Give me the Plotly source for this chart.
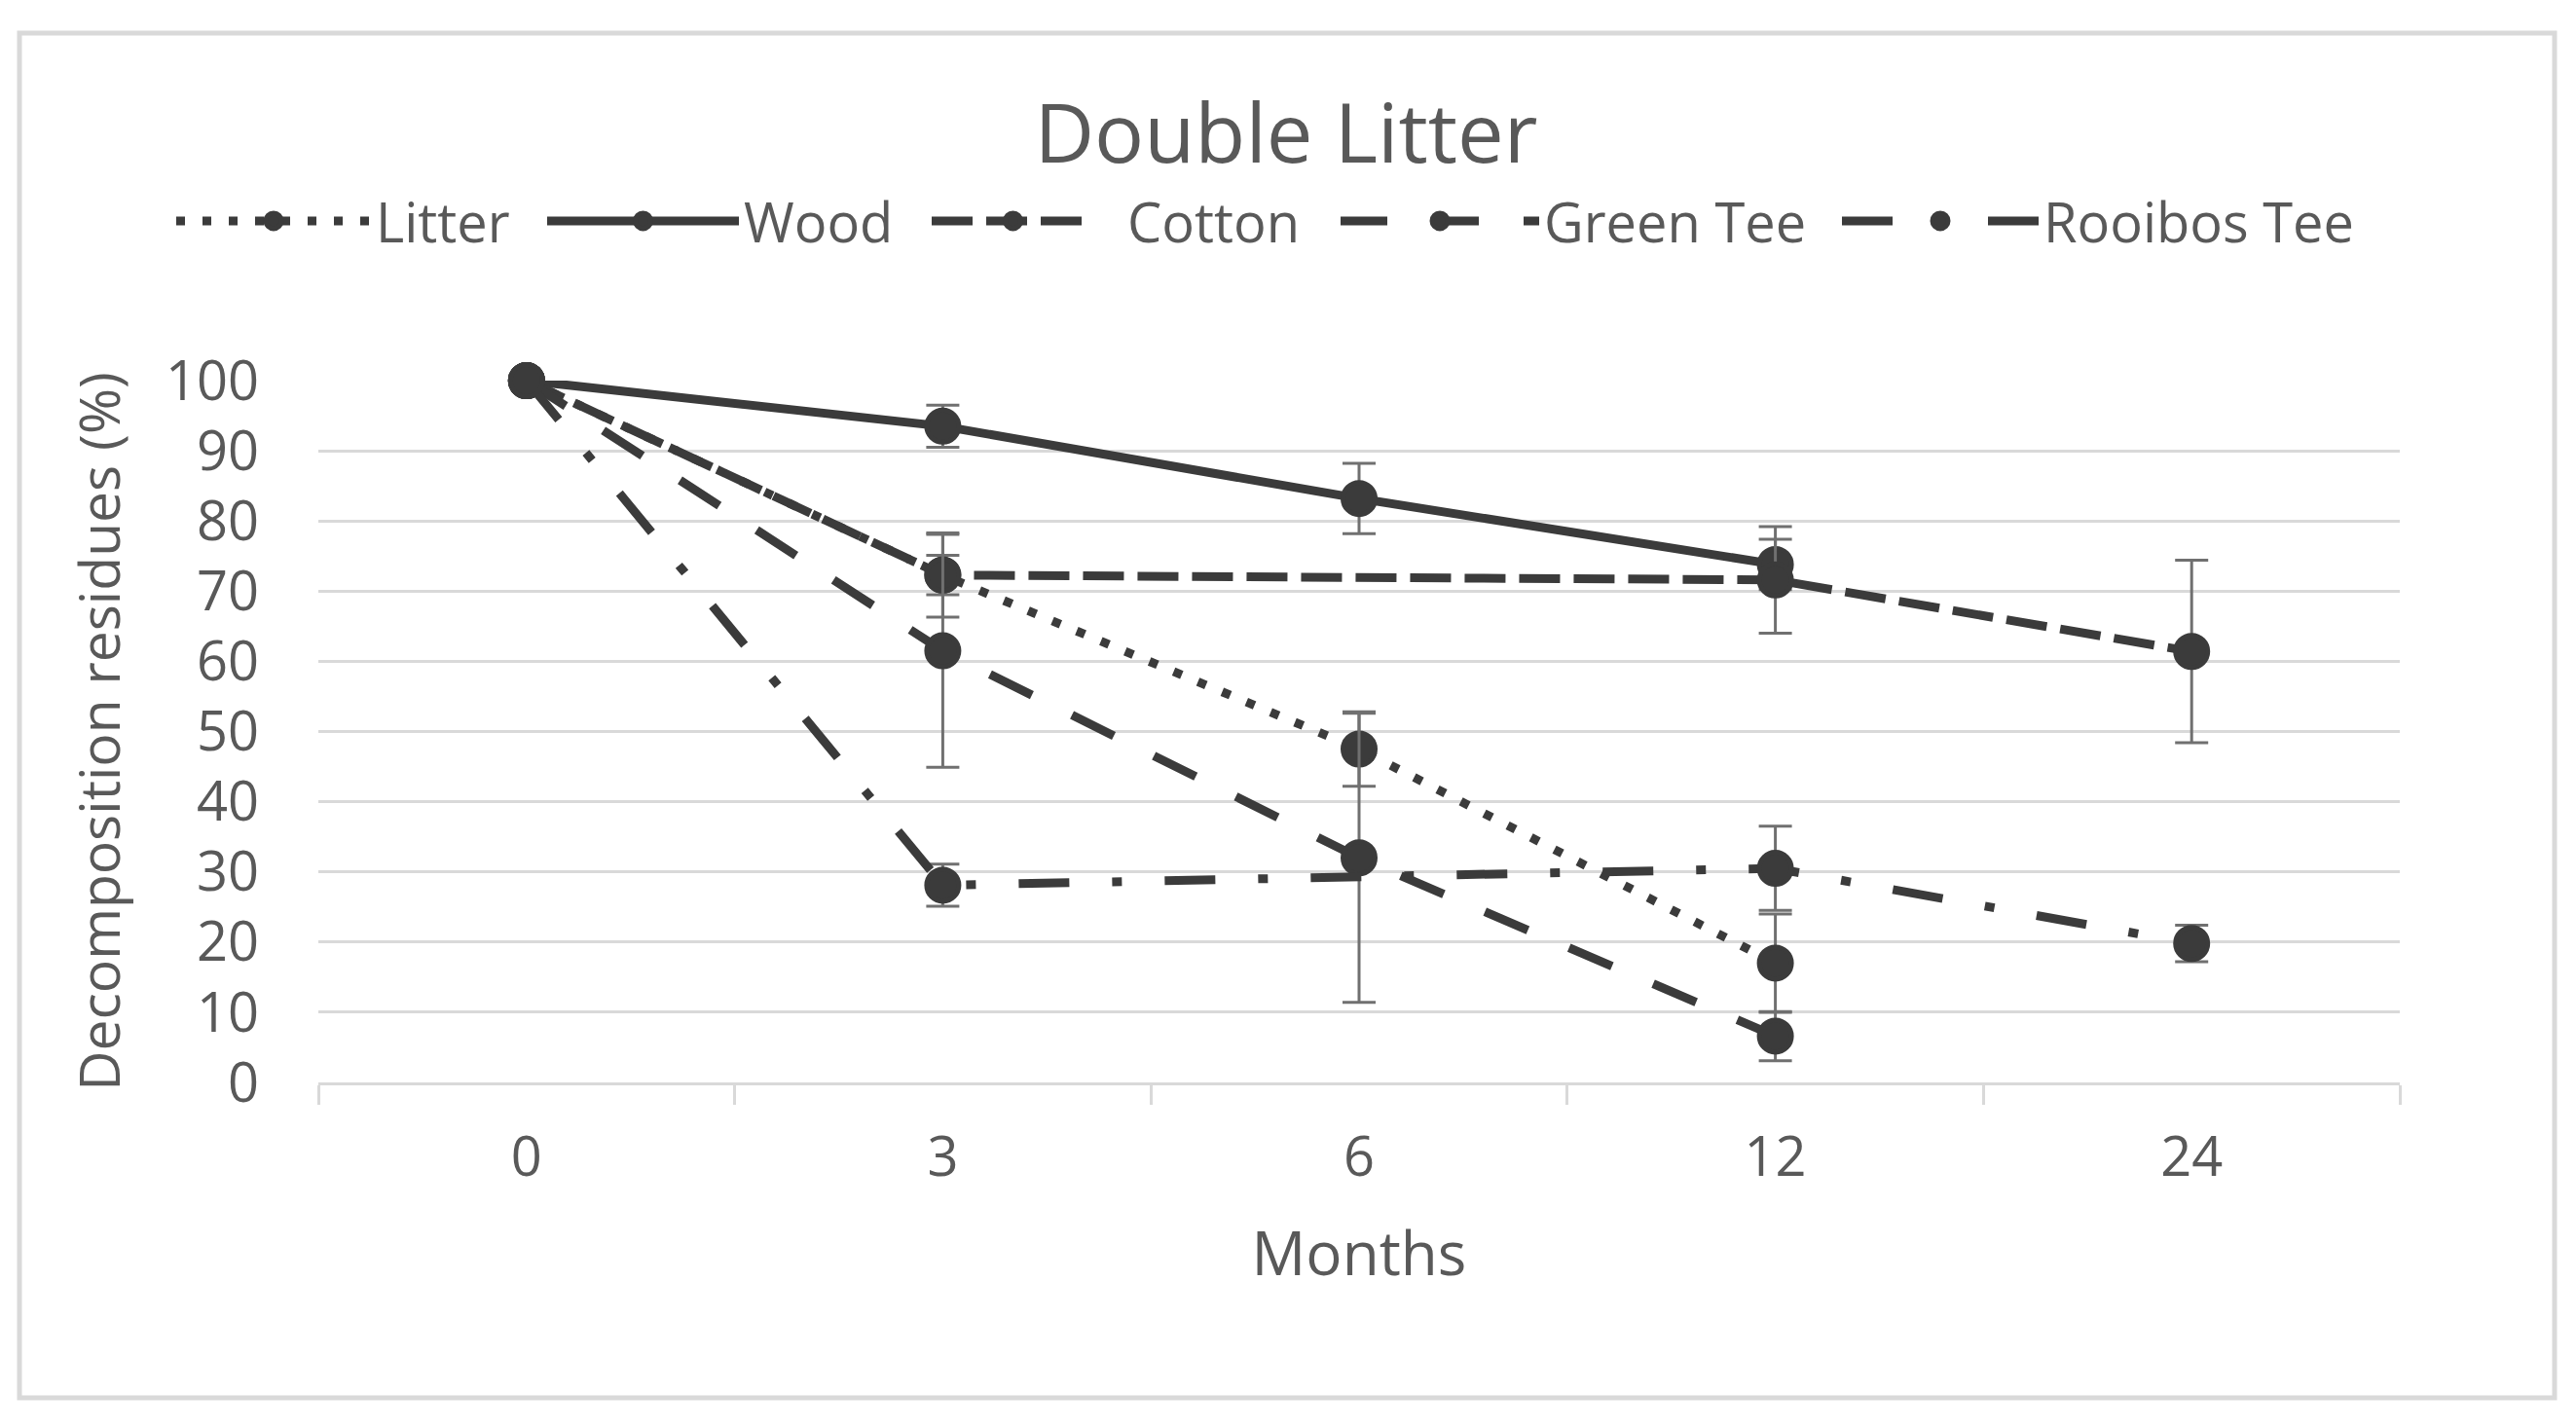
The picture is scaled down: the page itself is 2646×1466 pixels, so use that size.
import plotly.graph_objects as go

months = ["0", "3", "6", "12", "24"]

litter = [100, 72.3, 47.5, 17.0, None]
litter_err = [0, 2.8, 5.3, 7.0, None]

wood = [100, 93.5, 83.2, 73.8, None]
wood_err = [0, 3.0, 5.0, 3.6, None]

cotton = [100, 72.3, None, 71.6, 61.4]
cotton_err = [0, 6.0, None, 7.6, 13.0]

green_tee = [100, 61.5, 32.0, 6.6, None]
green_tee_err = [0, 16.6, 20.6, 3.5, None]

rooibos_tee = [100, 28.1, None, 30.5, 19.8]
rooibos_tee_err = [0, 3.0, None, 6.0, 2.6]

names = ["Litter", "Wood", "\u00a0\u00a0Cotton", "Green Tee", "Rooibos Tee"]
values = [litter, wood, cotton, green_tee, rooibos_tee]
errors = [litter_err, wood_err, cotton_err, green_tee_err, rooibos_tee_err]
dashes = ["9px,18px", "solid", "42px,14px", "48px,46px", "52px,44px,10px,44px"]
# legend symbol start (screen px) and symbol-area width for each entry
legend_sym_x = [181, 562, 957, 1377, 1892]
legend_itemw = [200, 197, 167, 204, 202]

# The page body has an 8px margin; the figure is sized/offset for it.
OFF = 8
W, H = 2646 - 2 * OFF, 1466 - 2 * OFF
PL, PR, PT, PB = 327 - OFF, 2465 - OFF, 391 - OFF, 1112 - OFF
L, R, T, B = PL, W - PR, PT, H - PB
PW, PH = PR - PL, PB - PT


def px_x(sx):
    return (sx - OFF - PL) / PW


def px_y(sy):
    return (PB - (sy - OFF)) / PH


LINE = "#3b3b3b"
TEXT = "#595959"
GRID = "#d9d9d9"
FONT = "Open Sans"

fig = go.Figure()
legend_layouts = {}
for i, (name, vals, errs, dash) in enumerate(zip(names, values, errors, dashes)):
    lname = "legend" if i == 0 else f"legend{i + 1}"
    fig.add_trace(go.Scatter(
        x=months, y=vals, name=name, mode="lines+markers",
        connectgaps=True, cliponaxis=False, legend=lname,
        line=dict(color=LINE, width=9, dash=dash),
        marker=dict(color=LINE, size=33, line=dict(width=5, color=LINE)),
        error_y=dict(type="data", array=errs, visible=True,
                     color="#707070", thickness=3, width=17),
    ))
    legend_layouts[lname] = dict(
        orientation="h", x=px_x(legend_sym_x[i] - 5), xanchor="left",
        y=px_y(227), yanchor="middle",
        font=dict(family=FONT, size=56, color=TEXT),
        itemwidth=legend_itemw[i], bgcolor="rgba(0,0,0,0)", borderwidth=0)

fig.update_layout(
    width=W, height=H,
    margin=dict(l=L, r=R, t=T, b=B, pad=0),
    paper_bgcolor="white", plot_bgcolor="white",
    font=dict(family=FONT, color=TEXT, size=56),
    title=dict(text="Double Litter", x=(1321 - OFF) / W, xanchor="center",
               y=1 - (137 - OFF) / H, yanchor="middle",
               font=dict(family=FONT, size=85, color=TEXT)),
    showlegend=True,
    xaxis=dict(type="category", categoryorder="array", categoryarray=months,
               range=[-0.5, 4.5], showgrid=False, showline=True,
               linecolor=GRID, linewidth=3, ticks="outside",
               tickson="boundaries", ticklen=20, tickwidth=3, tickcolor=GRID,
               tickfont=dict(size=56, color=TEXT), ticklabelstandoff=26,
               zeroline=False,
               title=dict(text="Months", font=dict(size=62, color=TEXT),
                          standoff=44)),
    yaxis=dict(range=[0, 100], dtick=10, tick0=0, showgrid=True,
               gridcolor=GRID, gridwidth=3, showline=False, ticks="",
               zeroline=False, tickfont=dict(size=56, color=TEXT),
               ticklabelstandoff=60,
               title=dict(text="Decomposition residues (%)",
                          font=dict(size=57, color=TEXT), standoff=27)),
    shapes=[dict(type="rect", xref="paper", yref="paper",
                 x0=px_x(20), x1=px_x(2624), y0=px_y(1436), y1=px_y(34),
                 line=dict(color=GRID, width=5), layer="below")],
    **legend_layouts,
)

fig.write_html("out.html")
